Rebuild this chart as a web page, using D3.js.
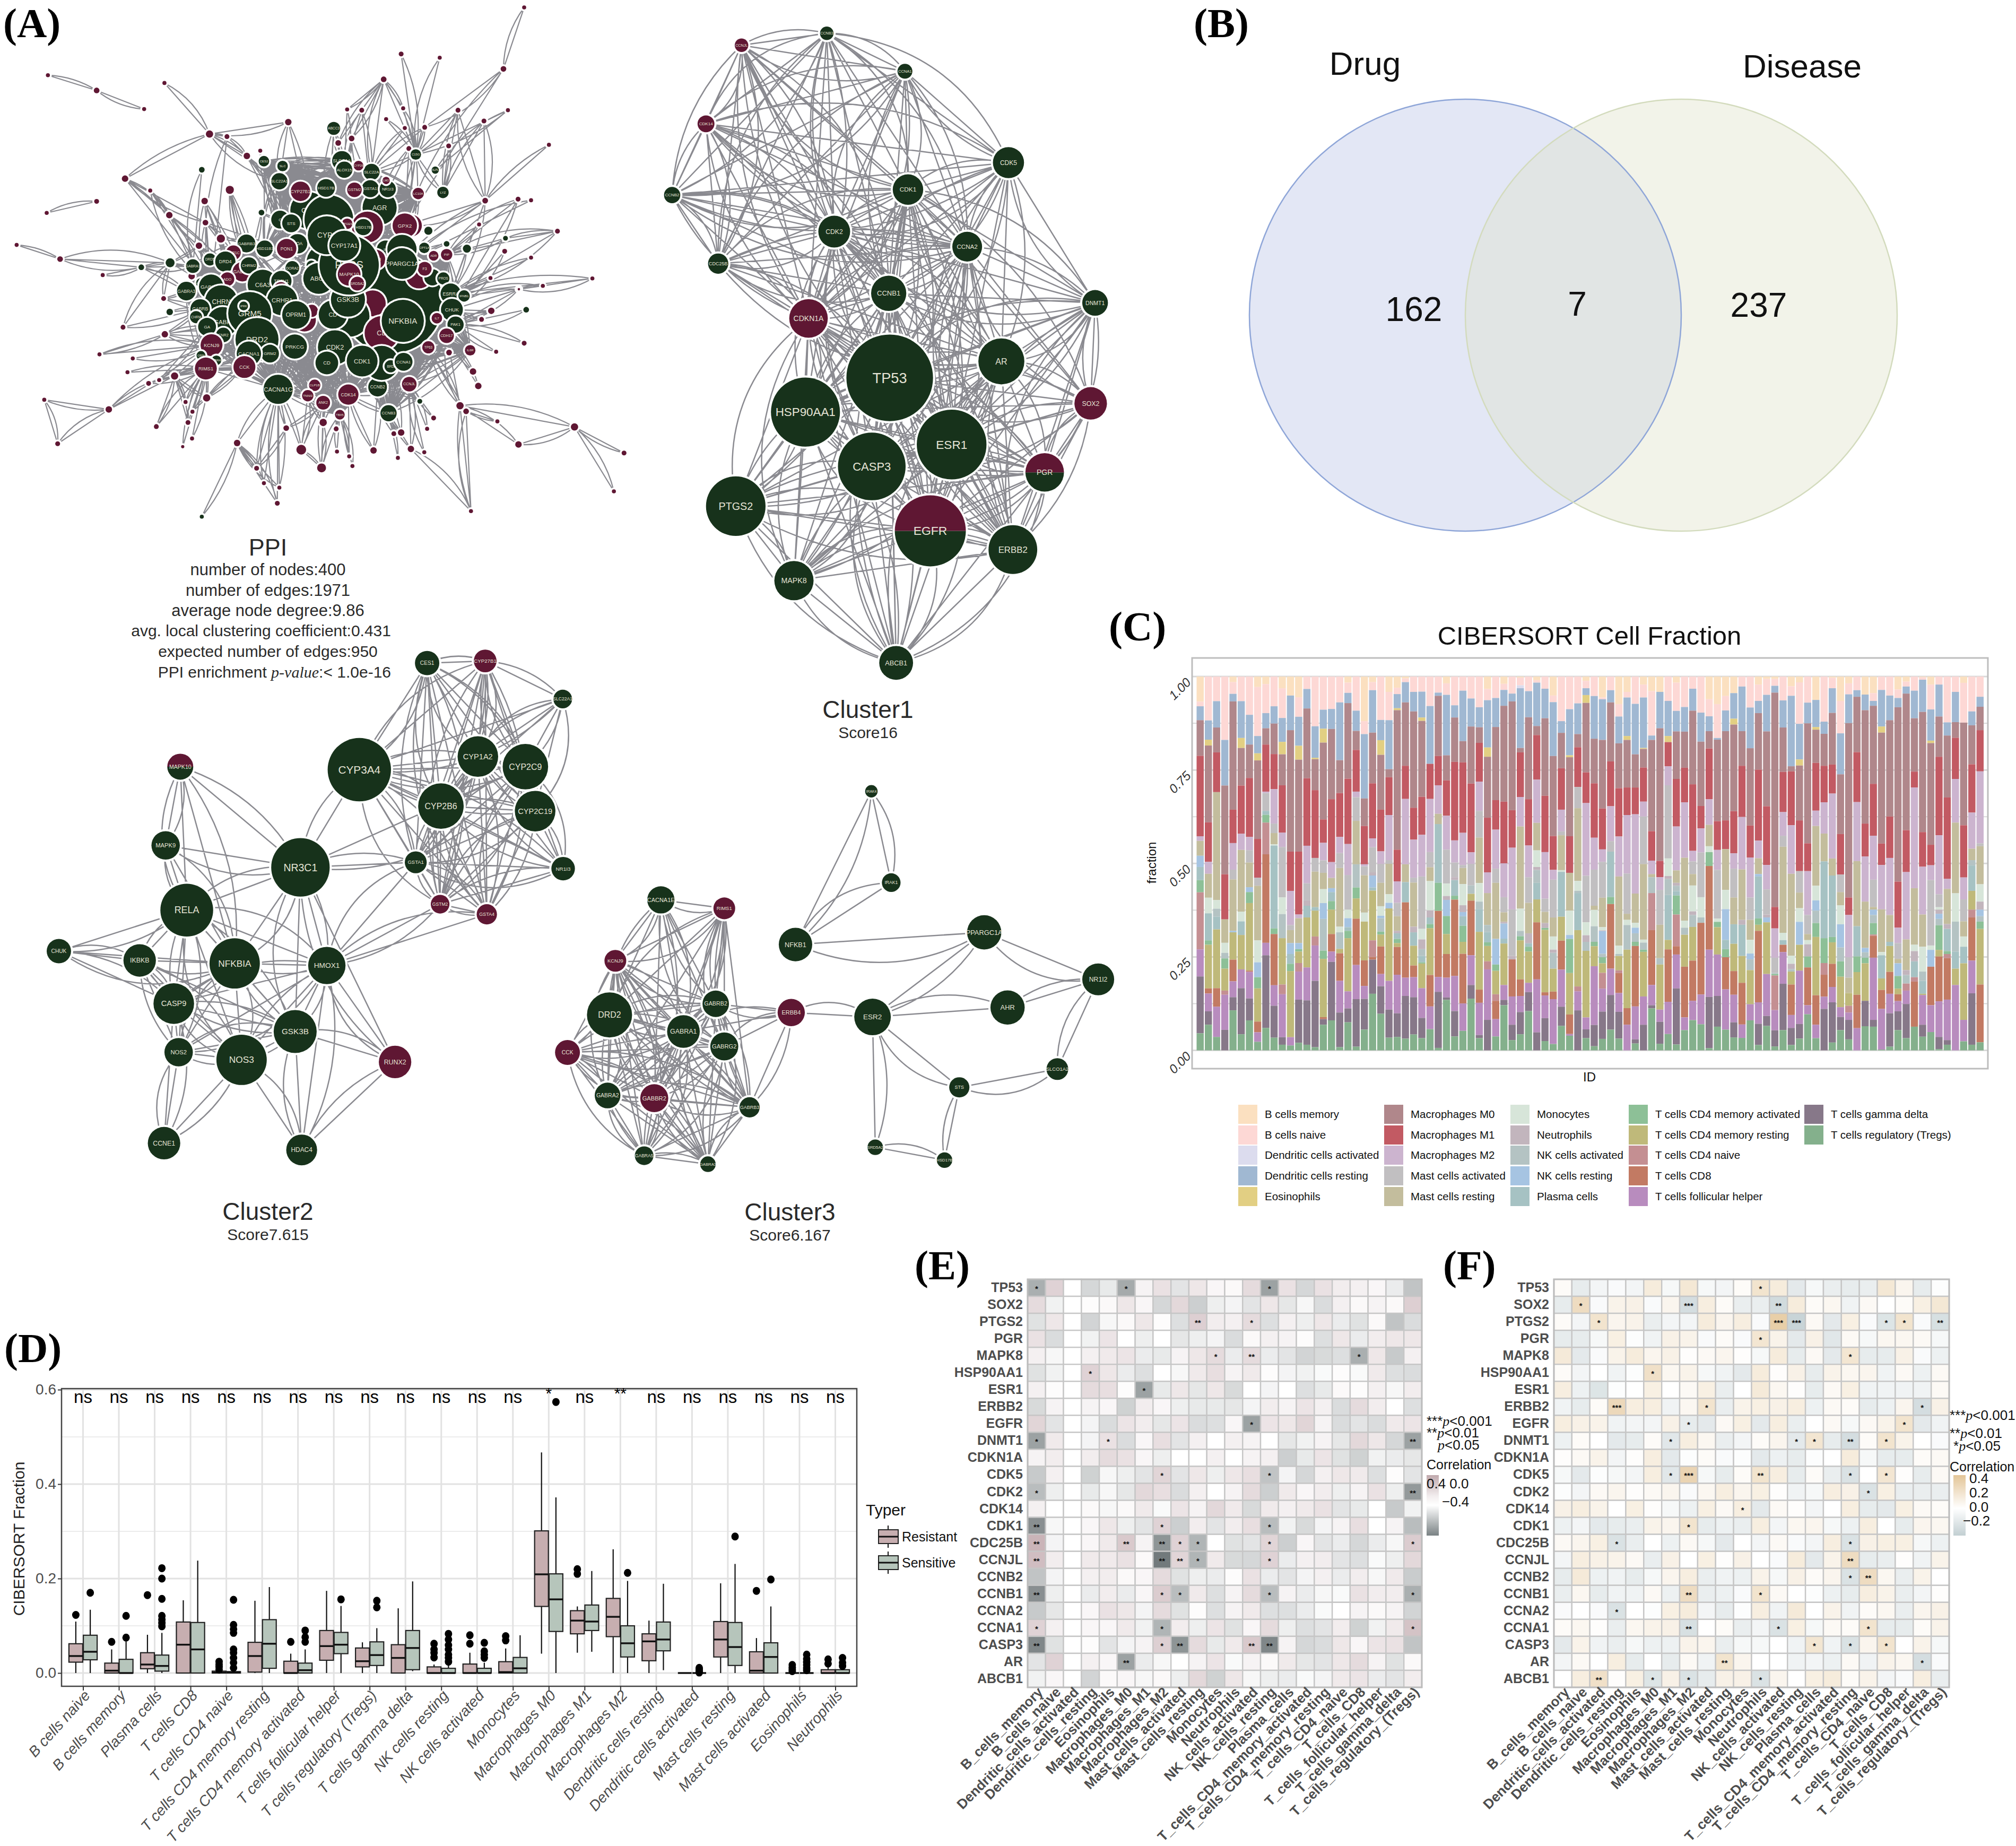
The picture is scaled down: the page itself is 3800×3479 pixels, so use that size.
<!DOCTYPE html>
<html><head><meta charset="utf-8">
<script src="https://cdn.jsdelivr.net/npm/d3@7"></script>
<style>
html,body{margin:0;padding:0;background:#fff}
text{font-family:"Liberation Sans",Arial,sans-serif}
.panel{font-family:"Liberation Serif",serif;font-weight:bold;font-size:78px;fill:#000}
</style></head><body>
<svg id="fig" width="3800" height="3479" xmlns="http://www.w3.org/2000/svg"></svg>
<script>
/* ---------- A: clusters (layout units) ---------- */
const cluster1Nodes=[["CCNJL",310,99,20,"m"],["CCNB3",562,73,20,"g"],["CCNA1",793,156,22,"g"],["CDK14",205,271,25,"m"],["CCNB2",105,427,24,"g"],["CDK5",1099,356,46,"g"],["CDK1",802,415,45,"g"],["CDK2",584,507,47,"g"],["CCNA2",977,540,44,"g"],["CDC25B",241,577,30,"g"],["CCNB1",745,642,52,"g"],["DNMT1",1355,663,38,"g"],["CDKN1A",508,697,57,"m"],["AR",1078,791,68,"g"],["TP53",748,827,128,"g"],["SOX2",1342,883,48,"m"],["HSP90AA1",499,902,102,"g"],["ESR1",931,973,103,"g"],["CASP3",695,1021,100,"g"],["PGR",1206,1034,57,"h"],["PTGS2",293,1108,88,"g"],["EGFR",868,1162,105,"h"],["ERBB2",1112,1203,72,"g"],["MAPK8",465,1271,58,"g"],["ABCB1",767,1451,50,"g"]];
/* "a b c" = every pair, ">a b c" = a linked to each of the others */
const cluster1Groups=["CCNJL CCNB3 CCNA1 CDK14 CCNB2 CDC25B CDK1 CDK2 CCNA2 CCNB1 CDKN1A",">CDK5 CDK1 CDK2 CCNA2 CCNB1 CCNB3 CCNA1 CDK14 CCNB2 CDKN1A TP53 ESR1 AR DNMT1","TP53 HSP90AA1 ESR1 CASP3 PTGS2 EGFR ERBB2 MAPK8 AR PGR ABCB1 CDKN1A CCNB1",">DNMT1 CDK1 CDK2 CCNA2 CCNB1 CDK5 TP53 ESR1 EGFR AR SOX2 PGR ERBB2 CASP3 HSP90AA1",">SOX2 TP53 ESR1 EGFR PGR ERBB2 AR CCNA2 CDK1 CASP3 HSP90AA1",">CDK1 TP53 ESR1 CASP3 AR EGFR ERBB2 HSP90AA1",">CDK2 TP53 ESR1 CASP3 AR EGFR ERBB2 HSP90AA1",">CCNA2 TP53 ESR1 CASP3 AR EGFR ERBB2 HSP90AA1",">CCNJL TP53",">CDC25B TP53 AR"];
const cluster2Nodes=[["CES1",1052,125,30,"g"],["CYP27B1",1195,120,28,"m"],["SLC22A1",1386,210,23,"g"],["CYP3A4",885,377,78,"g"],["CYP1A2",1177,346,50,"g"],["CYP2C9",1294,370,56,"g"],["CYP2B6",1086,463,56,"g"],["CYP2C19",1318,475,50,"g"],["GSTA1",1024,596,27,"g"],["NR1I3",1387,611,29,"g"],["GSTM2",1084,695,23,"m"],["GSTA4",1199,719,25,"m"],["MAPK10",444,370,32,"h"],["MAPK9",408,556,35,"g"],["NR3C1",740,608,72,"g"],["RELA",460,709,65,"g"],["CHUK",145,806,30,"g"],["IKBKB",344,828,40,"g"],["NFKBIA",578,835,62,"g"],["HMOX1",805,840,46,"g"],["CASP9",428,930,50,"g"],["GSK3B",727,996,53,"g"],["NOS2",440,1045,35,"g"],["NOS3",595,1063,62,"g"],["RUNX2",973,1068,40,"m"],["CCNE1",404,1260,40,"g"],["HDAC4",743,1276,38,"g"]];
const cluster2Groups=["CYP3A4 CYP1A2 CYP2C9 CYP2B6 CYP2C19 GSTA1 GSTM2 GSTA4",">CES1 CYP3A4 CYP1A2 CYP2C9 CYP2B6 CYP2C19 GSTA1 GSTM2 GSTA4 CYP27B1",">CYP27B1 CYP3A4 CYP1A2 CYP2C9 CYP2B6 CYP2C19 GSTA1 GSTM2 GSTA4",">SLC22A1 CYP27B1 CYP3A4 CYP1A2 CYP2C9 CYP2B6 CYP2C19",">NR1I3 CYP3A4 CYP1A2 CYP2C9 CYP2B6 CYP2C19 GSTA1 GSTM2",">NR3C1 CYP3A4 CYP2C9 GSTA1 RELA NFKBIA MAPK10 MAPK9 GSK3B HMOX1 RUNX2",">HMOX1 GSTA1 GSTM2 GSTA4 RELA NFKBIA CASP9 NOS2 NOS3 GSK3B RUNX2 HDAC4","RELA IKBKB NFKBIA CASP9 NOS2 NOS3 GSK3B",">MAPK10 MAPK9 RELA NFKBIA",">MAPK9 RELA NFKBIA",">CHUK RELA IKBKB NFKBIA CASP9",">CCNE1 CASP9 NOS2 NOS3",">HDAC4 GSK3B NOS3 RUNX2",">RUNX2 GSK3B"];
const cluster3Nodes=[["IRAK4",876,143,16,"g"],["IRAK1",927,413,24,"g"],["NFKB1",681,596,43,"g"],["PPARGC1A",1166,560,44,"g"],["NR1I2",1459,699,41,"g"],["AHR",1226,782,44,"g"],["ESR2",879,810,47,"g"],["ERBB4",670,797,35,"m"],["STS",1102,1018,26,"g"],["SLCO1A2",1354,964,28,"g"],["SRD5A2",886,1195,20,"g"],["HSD17B",1064,1233,20,"g"],["CACNA1E",335,464,35,"g"],["RIMS1",498,489,28,"m"],["KCNJ9",218,644,28,"m"],["DRD2",203,804,58,"g"],["GABRB2",476,771,34,"g"],["GABRA1",393,853,42,"g"],["GABRG2",498,897,36,"g"],["CCK",95,915,32,"m"],["GABRA2",198,1042,33,"g"],["GABBR2",318,1050,36,"m"],["GABRB3",563,1077,26,"g"],["GABRA5",292,1220,24,"g"],["GABRA3",456,1245,20,"g"]];
const cluster3Groups=["KCNJ9 DRD2 GABRB2 GABRA1 GABRG2 CCK GABRA2 GABBR2 GABRB3 GABRA5 GABRA3",">CACNA1E RIMS1 KCNJ9 GABRB2 GABRA1 GABRG2 GABBR2 DRD2",">RIMS1 KCNJ9 GABRB2 GABRA1 GABRG2 GABBR2 DRD2 GABRA2 GABRB3",">ERBB4 GABRB2 GABRG2 GABRB3 GABRA1 ESR2",">ESR2 PPARGC1A AHR STS SRD5A2",">NFKB1 PPARGC1A IRAK1 IRAK4",">IRAK4 IRAK1",">PPARGC1A NR1I2",">AHR NR1I2",">NR1I2 SLCO1A2",">SLCO1A2 STS",">STS HSD17B",">SRD5A2 HSD17B"];
/* PPI overview network */
const ppiNodes=[["hub1",965,812,125,"g"],["CYPa",760,565,45,"g"],["C",690,590,22,"g"],["STS",717,600,22,"g"],["CYPm",815,585,32,"m"],["CYPb",810,590,60,"g"],["AGR",935,558,42,"g"],["x1",905,610,38,"m"],["PTGES",855,601,13,"m"],["HSD17B",895,610,20,"g"],["CYP27B1",740,514,24,"m"],["HSD17Bb",803,505,22,"g"],["SLCO1A",842,432,24,"g"],["ALOX15",848,456,20,"g"],["SLC22A",915,462,20,"g"],["GSTA1",912,507,21,"g"],["NR1I3",955,508,20,"g"],["SLC22A1",688,487,20,"g"],["ABCC3",822,345,16,"g"],["CES2",650,433,13,"g"],["SLC",696,446,13,"g"],["GSTM2",873,510,18,"m"],["CYP26",883,445,12,"m"],["LMO",951,485,9,"m"],["LC10A",1030,520,14,"m"],["GPXb",1012,606,27,"m"],["GPX2",997,606,30,"m"],["GABRB3",607,654,22,"g"],["HSD11B1",652,668,20,"g"],["DOA",733,655,24,"g"],["PON1",706,668,24,"m"],["HTR1C",575,679,18,"m"],["GABRA1",475,715,17,"g"],["DRD5",517,697,15,"g"],["DRD4",555,703,25,"g"],["GABBR2",597,730,24,"m"],["CHRM2",613,713,20,"g"],["DORA2",720,720,17,"g"],["ADO",560,750,17,"m"],["C6A3",647,765,37,"g"],["TRPV1",693,755,25,"g"],["MGLL",692,776,17,"m"],["CACRA2",495,760,12,"g"],["GABRA2",520,770,30,"g"],["GABRA3",459,782,23,"g"],["CHRN",545,810,40,"g"],["GABRB",493,830,24,"g"],["CHRM",483,852,15,"g"],["CRHR1",695,807,37,"g"],["x2",750,860,28,"m"],["x3",768,835,15,"m"],["OPRM1",729,846,34,"g"],["GABR",548,865,37,"g"],["GA",510,878,22,"g"],["CNR2",550,900,18,"g"],["GRM5",615,842,53,"g"],["IPRK",600,822,11,"g"],["DRD2",633,912,53,"g"],["PRKCG",726,931,30,"g"],["GRM2",665,950,22,"g"],["CACNA1",613,950,30,"g"],["KCNJ9",521,927,27,"m"],["GRIN",495,955,11,"g"],["GABRA5",533,968,12,"g"],["CCK",602,986,27,"m"],["RIMS1",507,990,27,"m"],["CACNA1C",685,1046,36,"g"],["CLP1B",775,1035,14,"m"],["TNNI3",758,1063,14,"m"],["ANK2",796,1082,17,"m"],["TBX5",837,1114,12,"m"],["CDK14",858,1060,25,"m"],["CCNB2",930,1040,23,"g"],["CCNB3",957,1110,20,"g"],["CCNJL",1008,1032,18,"m"],["x4",800,705,45,"g"],["LIPE",767,713,12,"g"],["ABCB",785,748,38,"g"],["x5",918,815,32,"m"],["x6",860,850,50,"g"],["CD",820,845,35,"g"],["GSK3B",857,805,42,"g"],["CDm",940,895,42,"m"],["CDK2",825,933,42,"g"],["CDb",805,975,28,"g"],["x7",940,975,42,"g"],["CDK1",892,970,38,"g"],["BRD",962,984,15,"g"],["CCNA1",994,972,22,"g"],["IH",950,670,22,"g"],["x8",990,670,36,"g"],["x9",1032,740,32,"m"],["x10",1065,745,20,"g"],["PROS",1092,748,15,"g"],["F3",1046,722,17,"m"],["CISH",925,697,24,"m"],["PPARGC1A",990,708,38,"g"],["PTGS",860,712,73,"g"],["CYP2",805,632,47,"g"],["CYP17A1",848,660,37,"g"],["MAPK10",860,737,28,"m"],["SRD5A2",880,762,17,"m"],["NFKBIA",992,862,52,"g"],["ESRRA",1110,789,25,"g"],["IFNB1",1143,795,14,"g"],["CHUK",1113,832,27,"g"],["PAK1",1122,872,20,"g"],["IL7",1076,855,13,"m"],["CDH17",1100,902,18,"m"],["TP63",1055,933,15,"m"],["IL6R",1158,941,13,"m"],["PIP",1100,684,14,"m"],["ADR",1068,687,12,"m"],["CPT1A",1045,666,13,"g"],["LYZ",1091,517,14,"g"],["C15G",1024,415,13,"g"],["ALPL",1072,457,9,"g"]];
const ppiGroups=["GRM5 DRD2 CACNA1 CACNA1C KCNJ9 RIMS1 CCK GABRA2 GABRA1 GABRA3 GABRB GABR GA CHRN CHRM CNR2 GRM2 PRKCG OPRM1 CRHR1 C6A3 TRPV1 GABBR2 GABRB3 DRD4 DRD5 CHRM2 HTR1C ADO MGLL","CYP2 CYP17A1 PTGS CYPa CYPb CYP27B1 HSD17B HSD17Bb SLC22A1 SLCO1A ALOX15 SLC22A GSTA1 NR1I3 GSTM2 ABCB DOA STS C HSD11B1 PON1 CISH GPX2 AGR MAPK10 SRD5A2 CES2 SLC LC10A CYP26 x8 IH","NFKBIA hub1 GSK3B CDK1 CDK2 CD CCNA1 CCNB2 CCNB3 CCNJL CDK14 BRD x7 PPARGC1A F3 x9 ESRRA CHUK PAK1 CDH17 TP63 IL7 x5 x6 CDm IL6R PIP CPT1A","PTGS hub1 GSK3B CDK2 CDK1 CACNA1C GRM5 DRD2 CRHR1 OPRM1 C6A3 ABCB PPARGC1A CYP2 TNNI3 ANK2 CDK14 CLP1B PRKCG TBX5 DORA2 x3",">CYP2 GRM5 C6A3 GABBR2 HSD11B1 PON1 GABRB3 DRD4 DOA TRPV1",">ABCC3 SLCO1A ALOX15 CYPb CYP2",">C15G GPX2 SLC22A LYZ PPARGC1A"];
const ppiOuter=[["o1",1291,20,5,"m","o2"],["o2",1240,185,7,"m","o10 GPX2"],["o3",988,145,6,"m","C15G"],["o4",1083,155,5,"m","C15G"],["o5",118,202,5,"m","o6"],["o6",238,243,7,"m","o7"],["o7",355,293,5,"m",""],["o8",405,223,5,"m","o24"],["o9",945,213,7,"m","o27 o28 SLC22A C15G"],["o10",1046,342,6,"m","SLC22A C15G"],["o11",855,294,5,"m","o9 ALOX15"],["o12",891,296,6,"m","ALOX15 GSTA1"],["o13",993,291,5,"m","o9 C15G"],["o14",1128,296,6,"m","LYZ C15G o36"],["o15",1251,296,5,"m","C15G ALPL"],["o16",1192,325,6,"m","o36 LYZ"],["o17",710,328,8,"m","o24 SLC22A1 CYPa"],["o18",997,344,5,"m","SLC22A"],["o19",951,320,5,"m","C15G"],["o24",516,360,9,"m","o30 o26 SLC22A1 o33"],["o26",559,367,6,"m","GABRA2 o33"],["o27",833,384,7,"m","SLCO1A"],["o28",866,372,7,"m","ALOX15 AGR"],["o29",1007,399,6,"m","GPX2 AGR"],["o31",1105,392,6,"m","LYZ"],["o32",1352,389,5,"m","o36"],["o33",608,419,8,"m","C SLC22A1 x4"],["o34",641,405,5,"m","C"],["o30",308,480,8,"m","o38 o39 GABRA2"],["o35",370,512,5,"m","GABRA2 o38"],["o37",566,510,10,"m","CHRM2 GRM5 C6A3"],["o40",504,540,8,"m","DRD4 GABRA2 GRM5"],["o41",238,541,6,"m","o42"],["o42",115,572,5,"m",""],["o38",417,578,8,"m","GABRA1 DRD4 GRM5"],["o39",506,598,7,"m","GABRA2 GABBR2 x4"],["o36",1195,539,7,"m","GPX2 PPARGC1A ESRRA"],["o43",1276,535,6,"m","PIP CHUK"],["o44",1308,538,5,"m","PPARGC1A"],["o45",1180,603,5,"m","PIP"],["o46",1373,621,6,"m","o47 ESRRA PIP"],["o48",41,658,5,"m","o49"],["o49",148,696,7,"m","o50 o51"],["o52",544,641,10,"m","GRM5 GABRB3 DRD2"],["o53",490,660,8,"m","CHRN DRD4"],["o54",1243,675,6,"m","CHUK"],["o55",1308,692,5,"m","ESRRA"],["o56",1208,747,5,"m","ESRRA"],["o57",1278,777,6,"m","CHUK o58"],["o58",1337,768,5,"m","IFNB1"],["o59",1459,748,5,"m","o60 ESRRA"],["o60",1278,777,3,"m","PAK1"],["o61",253,739,5,"m","o50"],["o62",472,742,8,"m","GABRA2"],["o63",403,802,6,"m","GABRA3 o51 GRM5"],["o64",1210,835,8,"m","CHUK PAK1"],["o65",1186,858,6,"m","CHUK"],["o66",303,879,6,"m","GABRB o51"],["o67",406,898,8,"m","GABRB GA KCNJ9 DRD2"],["o68",1291,922,6,"m","PAK1"],["o69",1222,945,5,"m","PAK1"],["o70",245,952,5,"m","o67 KCNJ9"],["o71",327,963,5,"m","KCNJ9"],["o72",314,1000,5,"m","RIMS1"],["o73",366,1030,6,"m","RIMS1"],["o74",392,1021,5,"m","RIMS1 GA"],["o75",430,1010,9,"m","RIMS1 KCNJ9 CCK o78"],["o76",109,1074,5,"m","o77 o78b"],["o78b",268,1100,8,"m","o75 o77 KCNJ9"],["o77",142,1192,6,"m",""],["o79",385,1146,6,"m","o75 RIMS1"],["o80",463,1135,6,"m","o75 RIMS1"],["o81",457,1080,5,"m","o75 RIMS1"],["o82",474,1106,5,"m","RIMS1 o78"],["o78",509,1069,9,"m","RIMS1 CCK CACNA1"],["o83",450,1200,4,"m","RIMS1"],["o84",473,1178,5,"m","RIMS1"],["o85",584,1190,8,"m","CACNA1C o86 o88 o89"],["o86",632,1258,6,"m","CACNA1C o91"],["o88",650,1298,5,"m","CACNA1C"],["o89",688,1310,5,"m","CACNA1C"],["o90",683,1352,6,"m","CACNA1C o85"],["o91",705,1150,7,"m","CACNA1C ANK2"],["o92",742,1208,12,"m","ANK2 CACNA1C o93 TNNI3"],["o93",792,1257,11,"m","ANK2 o92 o94 TBX5"],["o94",796,1135,9,"m","ANK2 TNNI3 CDK2"],["o95",828,1152,6,"m","TBX5 CDK2"],["o96",830,1213,5,"m","TBX5"],["o97",860,1226,5,"m","TBX5 CDK14"],["o98",868,1252,5,"m","TBX5"],["o99",920,1210,8,"m","CDK14 CCNB2"],["o100",970,1165,6,"m","CCNB2 CCNB3"],["o101",988,1162,8,"m","CCNB3 x7"],["o102",1012,1206,8,"m","CCNB3 CCNJL o110"],["o103",980,1230,5,"m","CCNB3"],["o104",1045,1215,5,"m","CCNJL"],["o105",1052,1152,5,"m","CCNJL"],["o106",1068,1123,6,"m","CCNJL"],["o107",1133,1090,9,"m","TP63 CDH17 o110"],["o108",1148,1105,7,"m","TP63 o110"],["o109",1225,1132,5,"m","o108"],["o110",1160,1373,5,"m","o107"],["o111",1415,1147,9,"m","o107 o112 o113 o114"],["o112",1277,1194,8,"m","o107 o111"],["o113",1537,1217,6,"m",""],["o114",1512,1320,5,"m",""],["o115",1165,998,8,"m","CDH17"],["o116",1178,1037,8,"m","CDH17"],["o117",1106,947,7,"m","PAK1"],["o118",497,1388,5,"g","o85"],["o50",348,718,7,"g","GABRA3 GABRA1 o51"],["o51",419,706,11,"g","GABRA1 GABRA2 o53"],["o47",1245,640,6,"g","PIP"],["o119",1150,668,10,"g","PIP ESRRA"],["o120",1100,655,7,"g","PPARGC1A"],["o121",1296,832,7,"g","PAK1"],["o122",1034,1078,6,"g","CCNB2"],["o123",418,838,8,"g","GABRB"],["o124",497,456,7,"g","GABRA1"],["o125",644,571,7,"g","CHRM2 C"],["o126",1055,620,10,"g","GPX2"]];
/* ---------- B ---------- */
const vennSets=["Drug","Disease"];
const vennCounts=[162,7,237];
/* ---------- C ---------- */
const cellTypes=["B cells memory","B cells naive","Dendritic cells activated","Dendritic cells resting","Eosinophils","Macrophages M0","Macrophages M1","Macrophages M2","Mast cells activated","Mast cells resting","Monocytes","Neutrophils","NK cells activated","NK cells resting","Plasma cells","T cells CD4 memory activated","T cells CD4 memory resting","T cells CD4 naive","T cells CD8","T cells follicular helper","T cells gamma delta","T cells regulatory (Tregs)"];
const cellColors=["#fbe0c0","#fdd8d5","#dcdcee","#a0b8d2","#e2cf83","#b0878b","#c25a63","#ccb4cf","#c1bfc1","#c3bd9d","#d7e5d9","#c2b5bd","#b4c3c3","#a6c4e2","#a6c2c3","#8dc097","#bfb97a","#c48f92","#c27a63","#b88cbe","#877889","#84b08c"];
const cellKeys="abcdefghijklmnopqrstuv";
/* each entry: letter of the cell type + depth of its lower edge on a 12..1545 reading grid (12 = fraction 1, 1545 = fraction 0) */
const sampleStacks=["a115 b134 d191 f337 g667 h686 j747 n793 o847 p897 r1131 t1242 u1475 v","b192 d271 e295 f610 g772 h821 j919 k983 o1094 p1112 q1291 s1312 t1385 u1440 v","b113 d221 f323 g486 j929 k964 m997 o1049 q1290 s1366 t1490 v","b272 d459 f823 g1008 j1104 k1145 m1168 p1210 q1300 r1317 t1461 u1545","a35 b83 d114 f558 g695 h804 i844 j1055 n1061 q1173 s1262 t1327 u1381 v","b113 d264 e305 f459 g657 h723 j976 k1016 o1072 q1213 t1290 u1479 v","b169 d291 f428 g670 h724 i775 j876 n896 p941 q1218 s1223 t1332 u1422 v","a55 b256 d327 e356 f678 g837 i870 j1094 k1184 n1245 p1291 q1427 s1471 t1510 v","a43 b162 d224 f291 g484 h490 i563 o579 p611 r741 s1104 t1155 u1453 v","b134 d205 f330 g474 h615 i654 j700 k705 o1045 p1068 s1278 t1362 u1493 v","a60 b182 d280 e331 f458 g652 h711 i918 k986 m1085 q1275 r1315 t1491 u1522 v","a90 d232 f730 g891 h1031 i1052 j1105 n1150 o1190 p1220 q1491 t1525 v","a97 b177 d296 e353 f730 g988 h1003 j1105 n1130 p1140 q1187 r1222 t1337 u1514 v","b63 d143 f429 g706 h860 i930 l952 o1000 q1205 t1340 u1522 v","b216 d345 e351 f478 g756 i812 j958 o972 q1078 r1115 t1260 u1532 v","b148 d226 e283 f598 g694 h766 i817 j884 k941 n1006 m1136 p1170 q1409 s1417 u1440 v","b145 d227 f515 g773 h838 j880 n896 o933 p968 q1068 s1140 t1182 u1422 v","b118 d355 f490 g670 h736 i797 j1038 k1061 m1129 q1147 s1260 t1390 u1532 v","a37 b79 d121 f431 g699 h826 i968 k1003 n1040 o1055 p1085 q1303 t1373 u1430 v","b152 d235 f313 g484 h507 i604 j782 m877 p922 q1005 s1195 t1335 u1530 v","a195 b248 d512 f625 g782 h790 i827 j980 k1017 q1176 s1281 t1334 u1460 v","a35 b68 d242 f450 g676 h712 i815 l828 n877 o890 q1094 r1162 s1173 u1313 v","b190 d273 e333 f558 g729 h780 i858 j954 k993 n1003 m1058 p1070 q1119 s1232 t1282 u1395 v","a75 b191 d392 f425 g580 h765 i780 j905 k940 n963 q1260 t1378 u1493 v","a58 b84 d142 e150 f722 g852 h940 i995 j1055 l1065 o1088 p1105 q1121 s1235 t1393 u1490 v","a20 b35 d118 f378 g514 h782 j855 o938 s1247 t1322 u1497 v","b75 d155 f550 g681 h837 i857 j1038 l1061 o1116 q1197 s1245 t1327 u1480 v","b74 d180 e194 f505 g661 h832 i1047 k1090 l1130 m1158 o1184 p1189 q1290 t1412 u1495 v","b133 d370 g514 h732 i794 j851 k971 l1000 o1027 p1044 q1236 s1365 t1458 v","b78 d91 f338 g458 h575 j617 o858 p973 s1244 t1305 u1535 v","a40 b87 d335 f438 g583 h722 i861 k912 l928 n994 p1068 q1150 s1247 t1328 u1338 v","b130 d180 f362 g684 h775 i835 l847 o911 p927 s1240 t1384 u1488 v","b70 d277 f364 g653 h785 i797 j863 k950 l978 n995 o1034 p1100 q1149 s1353 t1465 v","b102 d217 f451 g733 h780 i868 m903 q931 s1155 t1277 u1333 v","b138 d220 f284 g443 h563 i672 j859 k935 m967 o1059 q1296 s1350 t1482 u1495 v","a63 b109 d303 e341 f591 g815 h900 j1031 m1060 o1102 p1117 q1180 r1213 t1420 u1545","b100 d219 f519 g640 h800 i858 j1088 n1193 p1219 q1315 r1342 s1417 t1488 v","a42 b67 d132 f525 g778 h917 i979 j1018 l1025 n1087 o1107 q1277 t1338 u1360 v","b82 d114 f560 g714 h967 i1158 l1172 s1324 t1440 u1503 v","a16 b48 c60 d305 f323 g506 h627 j964 k1055 m1077 p1094 q1254 s1322 t1388 u1479 v","b72 d179 f515 g705 h835 i940 j1065 l1106 o1120 p1140 q1268 t1306 u1384 v","a27 b37 d215 f252 g435 h612 j725 k793 l805 m858 o926 q1020 s1254 t1471 u1545","b62 d183 f501 g732 h923 i977 j1023 l1043 p1051 q1307 s1320 t1413 u1507 v","a90 b117 d338 f666 g805 h845 i1000 j1078 k1132 l1145 m1210 q1304 s1335 t1519 v","b195 d243 f388 g558 h647 i663 j806 k813 o997 q1095 s1214 t1366 u1445 v","b146 d335 e343 f667 g817 j972 k1072 n1088 p1228 q1398 s1478 t1485 v","b122 d248 f302 g465 i552 j850 k891 m900 o1052 q1283 r1303 t1381 u1545","a30 b60 d88 e120 f405 g531 h829 i1020 k1073 l1100 m1137 q1410 t1459 u1495 v","b92 d267 f450 g673 h804 i952 j969 k1036 m1100 p1118 q1200 t1441 u1528 v","a98 b105 d272 f553 g721 h772 i919 j1040 k1053 l1056 n1149 m1163 p1188 q1227 r1292 t1386 u1498 v","b68 d118 f360 g544 h687 i730 o916 p945 s1210 t1318 u1460 v","a125 b176 d286 f470 g668 h832 j1116 k1150 m1158 q1217 r1228 s1310 t1387 u1497 v","a75 b98 d256 e272 f467 g580 h820 i985 j1010 k1031 m1132 q1372 s1440 t1545","b124 d331 f467 g577 h902 j1022 k1042 n1065 m1100 p1117 s1365 t1500 u1517 v","a45 b98 d305 e309 f385 g525 h586 i781 j1091 k1103 m1132 p1141 q1324 t1440 u1545","a72 b254 d272 f646 g767 h822 j835 m900 r1052 s1277 t1360 u1373 v","a75 d224 f768 g835 h887 i1030 j1167 m1193 q1378 t1428 u1518 v","b112 d256 e281 g380 h458 i758 k830 l842 m908 o1092 q1131 s1346 t1478 v","a37 b153 d237 f432 g627 h807 j858 l870 m892 o910 p988 r1118 s1152 t1291 u1521 v","b137 d238 f386 g528 h755 j1013 k1042 m1071 q1202 s1410 t1462 v","b62 d152 f454 g727 h770 i822 j869 k975 l990 m1039 q1177 s1342 t1421 v","b160 d279 f543 g635 h733 i917 k1000 m1022 s1316 t1438 v","a105 b175 d236 f307 g515 h620 j708 k732 p789 s1132 t1326 u1536 v","a125 b264 d271 f605 g723 h805 i1005 k1018 p1040 q1152 t1322 u1448 v","a92 b151 d236 f602 g720 j887 k966 n1092 o1130 p1163 s1295 t1460 v","a80 d185 e209 f564 g737 h800 i918 j1028 o1108 q1220 s1317 t1430 u1492 v","b53 d236 f378 g588 h803 j1010 l1030 o1158 q1268 s1439 t1494 v","b139 d306 f623 g754 h918 i1010 j1092 k1148 n1172 m1216 q1356 t1422 v","a45 b112 d162 f394 g685 h757 j822 n832 o1004 p1030 q1055 s1348 t1436 u1523 v","a22 b87 d237 f544 g785 h885 i988 l1000 n1020 q1232 t1404 u1445 v","a22 b50 d78 f957 g1045 h1165 i1227 m1232 p1238 r1380 t1463 u1529 v","b110 d221 f403 g568 h665 i710 j1063 k1093 o1112 s1142 t1272 u1462 v","a52 b91 d380 f401 g622 h821 j1157 k1190 l1212 m1222 q1275 s1400 t1453 u1523 v","a36 b206 d352 e377 f602 g810 i898 j962 k1018 n1112 q1218 t1437 u1497 v","b119 d204 f696 g810 h990 i1068 j1093 k1110 l1160 p1205 s1360 t1397 v","a108 d219 e230 f366 g562 h625 j870 k930 n972 m1023 p1080 q1319 s1440 t1495 v","b197 d247 f378 g528 h656 j770 o1085 p1187 r1235 s1325 t1375 u1545","a17 b60 d161 f373 g492 h758 j828 o1080 p1102 q1190 s1285 t1348 u1513 v","a112 b245 d413 f658 g824 i896 j950 k1028 n1123 m1180 p1243 q1368 t1408 u1462 v","a40 b85 d203 f918 g990 h1163 i1247 j1310 q1362 r1390 t1420 u1500 v","b68 d95 f322 g527 h769 j1036 o1160 p1224 q1317 s1454 t1545","a86 d150 f615 g750 h935 j1125 n1143 m1165 p1188 q1342 u1446 v","a80 b112 d132 f452 g665 h845 i957 j968 n990 m1023 p1070 r1075 s1165 t1420 u1448 v","b67 d217 e242 f697 g785 h967 j1142 k1155 o1250 q1297 s1375 t1542 v","b90 d191 f586 g756 h990 j1100 o1117 q1223 s1313 t1393 u1530 v","a65 b100 d138 f853 g1042 h1105 i1170 j1188 n1240 p1292 q1315 s1343 t1385 u1462 v","a33 b53 d82 f642 g814 h1090 j1216 l1236 m1271 r1300 t1355 u1495 v","b70 d183 f402 g467 h880 j1112 k1138 l1180 o1245 r1263 s1448 v","a15 b25 d157 f650 g792 h988 j1120 k1222 m1260 o1313 q1318 t1440 u1489 v","a45 b147 d275 e285 f702 g786 h847 i1115 k1133 n1202 s1360 t1470 v","b45 d176 f341 g663 h905 i958 k968 l985 n1006 m1032 p1133 q1160 s1344 t1490 u1540 v","b200 d254 f508 g842 h883 j1027 l1047 o1138 p1150 r1167 s1337 t1503 u1522 v","b75 d199 f263 g432 h611 j901 k1017 m1140 o1210 q1277 t1545","a38 b201 f622 g836 h926 i1016 j1078 k1120 o1188 q1420 t1508 v","b155 d212 f372 g570 h718 j765 m787 o891 q968 r1000 s1177 t1311 u1522 v","b95 d136 f232 g401 h696 i708 j864 k935 l968 n995 m1017 p1047 q1275 s1512 v"];
/* ---------- D ---------- */
const boxCategories=["B cells naive","B cells memory","Plasma cells","T cells CD8","T cells CD4 naive","T cells CD4 memory resting","T cells CD4 memory activated","T cells follicular helper","T cells regulatory (Tregs)","T cells gamma delta","NK cells resting","NK cells activated","Monocytes","Macrophages M0","Macrophages M1","Macrophages M2","Dendritic cells resting","Dendritic cells activated","Mast cells resting","Mast cells activated","Eosinophils","Neutrophils"];
const boxSignif=["ns","ns","ns","ns","ns","ns","ns","ns","ns","ns","ns","ns","ns","*","ns","**","ns","ns","ns","ns","ns","ns"];
/* low whisker, q1, median, q3, high whisker, outliers */
const resistantBoxes=[[0,.023,.036,.062,.109,[.123]],[0,0,.005,.021,.05,[.066]],[0,.009,.018,.043,.081,[.165]],[0,0,.06,.108,.154,[]],[0,0,.001,.004,.005,[.007,.013,.018,.024]],[0,.002,.036,.065,.153,[]],[0,0,0,.025,.041,[.066]],[0,.027,.057,.09,.174,[]],[0,.013,.025,.053,.065,[]],[0,0,.032,.06,.137,[]],[0,0,0,.013,.018,[.033,.043,.05,.062]],[0,0,0,.019,.043,[.062,.08]],[0,0,.002,.024,.052,[.069,.078]],[.041,.141,.209,.301,.467,[]],[.043,.083,.111,.132,.141,[.21,.22]],[0,.077,.119,.158,.262,[]],[0,.026,.067,.083,.111,[]],[0,0,0,0,0,[]],[0,.034,.071,.109,.19,[]],[0,0,.005,.045,.074,[.174]],[0,0,0,0,0,[.004,.008,.012,.017]],[0,0,0,.007,.014,[.02,.029]]];
const sensitiveBoxes=[[0,.028,.045,.08,.134,[.17]],[0,0,0,.029,.067,[.075,.121]],[0,.004,.015,.038,.085,[.099,.106,.113,.121,.157,.2,.222]],[0,0,.05,.107,.238,[]],[0,0,.001,.003,.005,[.011,.022,.032,.043,.05,.085,.093,.102,.155]],[0,.01,.062,.113,.182,[]],[0,0,.006,.021,.05,[.066,.076,.09]],[0,.041,.06,.086,.142,[.156]],[0,.016,.038,.066,.095,[.139,.153]],[.004,.007,.053,.09,.194,[]],[0,0,0,.01,.02,[.024,.032,.039,.05,.059,.071,.083]],[0,0,0,.01,.022,[.032,.039,.046,.064]],[0,0,.01,.033,.08,[]],[0,.088,.156,.21,.372,[.574]],[.045,.09,.109,.144,.216,[]],[0,.034,.063,.1,.195,[.212]],[.006,.047,.071,.108,.189,[]],[0,0,0,0,0,[.001,.004,.008,.011]],[0,.016,.055,.107,.231,[.289]],[0,0,.034,.064,.141,[.198]],[0,0,0,0,0,[.006,.011,.017,.023,.03,.039]],[0,0,0,.007,.012,[.015,.022,.032]]];
/* ---------- E / F ---------- */
const genes=["TP53","SOX2","PTGS2","PGR","MAPK8","HSP90AA1","ESR1","ERBB2","EGFR","DNMT1","CDKN1A","CDK5","CDK2","CDK14","CDK1","CDC25B","CCNJL","CCNB2","CCNB1","CCNA2","CCNA1","CASP3","AR","ABCB1"];
const immuneCells=["B_cells_memory","B_cells_naive","Dendritic_cells_activated","Dendritic_cells_resting","Eosinophils","Macrophages_M0","Macrophages_M1","Macrophages_M2","Mast_cells_activated","Mast_cells_resting","Monocytes","Neutrophils","NK_cells_activated","NK_cells_resting","Plasma_cells","T_cells_CD4_memory_activated","T_cells_CD4_memory_resting","T_cells_CD4_naive","T_cells_CD8","T_cells_follicular_helper","T_cells_gamma_delta","T_cells_regulatory_(Tregs)"];
const corrE=[[-30,15,0,-15,-8,-32,4,10,-10,8,3,2,12,-35,10,-15,10,6,5,3,-7,-22],[12,-5,0,1,2,8,3,-15,13,-18,-6,-4,-10,8,-9,-3,-13,5,2,4,2,16],[-11,8,0,-16,-3,2,8,1,-12,16,6,5,12,-12,5,-6,8,-7,-11,2,-22,-13],[10,-13,0,-5,9,0,-6,0,-9,-6,-4,-13,2,5,4,1,-12,8,-7,6,8,8],[5,-3,0,5,7,9,-7,-8,4,8,12,-7,12,-7,-10,-16,-14,-12,-30,8,-20,5],[-11,-5,0,15,8,-7,-12,0,-3,7,11,4,7,1,-4,-5,-2,1,-2,7,-12,-13],[5,1,0,12,11,1,-35,-8,8,-9,8,-14,0,-4,0,-12,-8,2,1,5,-3,6],[-14,4,0,4,3,-17,6,3,-6,-8,-8,-9,-4,6,4,9,5,-13,12,6,0,-12],[14,-10,0,-4,-13,9,6,-9,9,-13,-12,3,-35,9,8,14,4,-13,-10,-13,7,9],[-35,7,0,-4,10,-13,3,11,-10,5,0,5,4,0,-9,-5,4,-9,13,8,-15,-35],[4,6,0,6,12,10,3,-6,0,0,5,0,4,5,-18,-8,9,-11,-17,-5,-7,-9],[-20,5,0,-17,-3,-6,-10,14,-10,8,-6,8,11,-22,-4,-15,5,8,7,-12,1,-10],[-25,-6,0,-8,-3,-9,13,11,-13,5,0,4,12,-18,7,3,6,-6,4,10,-6,-38],[5,0,0,2,-3,2,7,-2,9,4,13,7,-14,7,5,7,10,-10,-8,0,-20,-5],[-42,-3,0,3,8,-6,-10,15,-18,6,-10,6,11,-25,-5,-14,-4,4,11,0,4,-25],[25,-4,0,3,7,18,4,-40,15,-28,0,-11,-10,14,-18,3,-10,-7,-15,-7,-3,17],[22,6,0,7,7,10,2,-50,14,-28,7,-14,-15,15,-7,5,6,-10,-12,-2,-6,13],[-22,-4,0,5,6,2,3,12,-11,-6,-7,1,10,-7,-10,-4,5,-7,6,-3,7,-19],[-42,-6,0,-7,6,-7,3,17,-25,7,-12,4,12,-25,4,-7,-3,-2,10,6,6,-30],[-20,-9,0,3,10,8,-4,12,-11,1,-12,4,7,-12,-12,-7,-2,0,4,2,4,-16],[15,5,0,3,3,7,-5,-28,6,-6,9,-11,3,12,-6,-12,-10,6,-17,-5,7,20],[-45,-11,0,1,-10,-4,4,16,-40,12,-8,7,18,-45,4,-15,-13,8,3,9,10,-22],[-10,15,0,5,3,-35,-7,-3,0,4,9,-2,4,2,7,-9,-10,8,12,4,-11,2],[-5,3,0,-16,2,3,-3,2,-6,13,-17,8,-3,-6,-7,-2,-4,7,9,-7,-10,6]];
const corrF=[[2,-8,-4,-2,-4,10,-3,12,-3,-4,2,14,10,-9,-3,-7,-8,-7,12,5,-8,-1],[-8,18,-2,6,7,-2,5,-14,9,2,-7,-7,-15,10,2,4,-5,3,0,2,8,12],[2,-4,14,5,6,-7,-4,-4,10,5,9,-2,25,-18,3,-9,8,-2,-11,14,-2,-13],[-8,-8,-3,8,-1,-5,7,6,-2,2,-2,13,6,-9,7,-10,3,-3,4,4,3,-3],[11,-9,-2,6,10,5,7,1,3,5,1,-3,10,-8,3,-9,13,-8,-8,7,-2,-6],[2,-4,0,-5,-1,16,4,6,-3,-5,-9,10,1,7,-8,6,4,5,-5,3,-6,3],[9,-6,-11,-1,0,8,0,3,8,-7,0,11,4,1,-8,3,8,-5,-5,-5,-5,3],[-5,-8,2,20,9,9,-5,4,14,-7,6,8,7,9,-6,3,2,-8,-6,5,-14,7],[9,7,6,-5,-4,-4,7,-8,-9,3,8,-9,9,-7,0,3,-3,3,6,14,-9,-5],[-6,2,0,-9,-8,2,-10,9,4,-7,-4,2,5,-9,13,-8,-14,2,14,6,0,-2],[1,3,6,-4,1,9,-9,-1,2,-2,-1,-9,-6,-8,-1,0,10,-3,-8,-8,2,3],[-3,-9,-1,-3,-4,9,-10,22,-3,-8,2,14,9,-8,2,-7,-12,0,13,1,-8,3],[-1,-4,3,5,1,3,5,-2,4,9,5,8,1,-5,-3,9,7,-12,8,-7,-7,-7],[7,9,6,0,8,1,-3,-6,8,3,9,-9,3,1,-4,0,9,-8,-9,8,3,2],[-6,-4,-9,-8,-7,6,5,14,-8,-6,-7,9,-4,4,5,-3,-6,9,0,-8,5,4],[3,5,8,-12,-7,0,-6,3,-3,-9,0,-4,3,-2,-4,9,-12,7,8,8,-3,-6],[-4,9,7,6,3,-7,7,0,8,1,7,0,-2,10,-9,6,18,-8,-7,1,-5,6],[-8,11,-6,-5,-8,-3,5,9,-7,-5,-6,6,-3,7,2,5,-12,18,4,-7,6,0],[-7,4,-8,-5,-5,3,-6,18,-7,-6,-2,14,3,0,-1,-6,-8,9,6,-7,-4,1],[-2,0,-2,-12,0,-1,8,10,-4,-8,-1,9,-5,11,0,6,-5,2,4,-7,5,7],[2,4,1,-7,4,6,7,-13,0,2,-7,-4,-12,8,-3,3,2,14,-8,-8,2,6],[-9,6,-5,-7,-3,-6,-6,6,5,-7,-3,-3,0,-5,13,-5,-12,5,14,0,6,-3],[-4,3,0,9,-8,0,-8,3,-5,14,5,0,0,-5,-4,-6,3,-5,6,4,-14,-2],[0,9,16,1,8,-11,7,-12,-8,7,7,-12,5,0,8,10,2,6,-4,-2,9,-7]];
/* significant cells: [row gene, column index, stars] */
const starsE=[["TP53",0,"*"],["TP53",5,"*"],["TP53",13,"*"],["PTGS2",9,"**"],["PTGS2",12,"*"],["MAPK8",10,"*"],["MAPK8",12,"**"],["MAPK8",18,"*"],["HSP90AA1",3,"*"],["ESR1",6,"*"],["EGFR",12,"*"],["DNMT1",0,"*"],["DNMT1",4,"*"],["DNMT1",21,"**"],["CDK5",7,"*"],["CDK5",13,"*"],["CDK2",0,"*"],["CDK2",21,"**"],["CDK1",0,"**"],["CDK1",7,"*"],["CDK1",13,"*"],["CDC25B",0,"**"],["CDC25B",5,"**"],["CDC25B",7,"**"],["CDC25B",8,"*"],["CDC25B",9,"*"],["CDC25B",13,"*"],["CDC25B",21,"*"],["CCNJL",0,"**"],["CCNJL",7,"**"],["CCNJL",8,"**"],["CCNJL",9,"*"],["CCNJL",13,"*"],["CCNB1",0,"**"],["CCNB1",7,"*"],["CCNB1",8,"*"],["CCNB1",13,"*"],["CCNB1",21,"*"],["CCNA1",0,"*"],["CCNA1",7,"*"],["CCNA1",21,"*"],["CASP3",0,"**"],["CASP3",7,"*"],["CASP3",8,"**"],["CASP3",12,"**"],["CASP3",13,"**"],["AR",5,"**"]];
const starsF=[["TP53",11,"*"],["SOX2",1,"*"],["SOX2",7,"***"],["SOX2",12,"**"],["PTGS2",2,"*"],["PTGS2",12,"***"],["PTGS2",13,"***"],["PTGS2",18,"*"],["PTGS2",19,"*"],["PTGS2",21,"**"],["PGR",11,"*"],["MAPK8",16,"*"],["HSP90AA1",5,"*"],["ERBB2",3,"***"],["ERBB2",8,"*"],["ERBB2",20,"*"],["EGFR",7,"*"],["EGFR",19,"*"],["DNMT1",6,"*"],["DNMT1",13,"*"],["DNMT1",14,"*"],["DNMT1",16,"**"],["DNMT1",18,"*"],["CDK5",6,"*"],["CDK5",7,"***"],["CDK5",11,"**"],["CDK5",16,"*"],["CDK5",18,"*"],["CDK2",17,"*"],["CDK14",10,"*"],["CDK1",7,"*"],["CDC25B",3,"*"],["CDC25B",16,"*"],["CCNJL",16,"**"],["CCNB2",16,"*"],["CCNB2",17,"**"],["CCNB1",7,"**"],["CCNB1",11,"*"],["CCNA2",3,"*"],["CCNA1",7,"**"],["CCNA1",12,"*"],["CCNA1",17,"*"],["CASP3",14,"*"],["CASP3",16,"*"],["CASP3",18,"*"],["AR",9,"**"],["AR",20,"*"],["ABCB1",2,"**"],["ABCB1",5,"*"],["ABCB1",7,"*"],["ABCB1",11,"*"]];

/* ========== drawing ========== */
const svg=d3.select("#fig");
svg.append("rect").attr("width",3800).attr("height",3479).attr("fill","#fff");
const defs=svg.append("defs");
const GREEN="#17321b",MAROON="#5f1733",EDGE="#8a8a90";

[["(A)",6,70],["(B)",2250,70],["(C)",2090,1207],["(D)",8,2567],["(E)",1724,2411],["(F)",2720,2411]].forEach(([t,x,y])=>
  svg.append("text").attr("class","panel").attr("x",x).attr("y",y).text(t));

function network(nodes,groups,extra,xR,yR,dom,opts){
  const o=Object.assign({fa:3.5,fb:.29,sw:4,ew:2.5,bend:.2},opts||{});
  const g=svg.append("g");
  const sx=d3.scaleLinear().domain(dom[0]).range(xR),sy=d3.scaleLinear().domain(dom[1]).range(yR);
  const rs=d3.scaleLinear().domain([0,dom[0][1]-dom[0][0]]).range([0,xR[1]-xR[0]]);
  const byName=new Map(nodes.map(n=>[n[0],n]));
  const seen=new Set(),pairs=[];
  const add=(a,b)=>{if(a===b||!byName.has(a)||!byName.has(b))return;const k=a<b?a+"|"+b:b+"|"+a;if(!seen.has(k)){seen.add(k);pairs.push([a,b]);}};
  groups.forEach(s=>{
    if(s[0]===">"){const l=s.slice(1).split(" ");l.slice(1).forEach(b=>add(l[0],b));return;}
    const l=s.split(" ");l.forEach((a,i)=>l.slice(i+1).forEach(b=>add(a,b)));
  });
  (extra||[]).forEach(([a,b])=>add(a,b));
  const d=[];
  pairs.forEach(([a,b],i)=>{
    const A=byName.get(a),B=byName.get(b);
    const x1=sx(A[1]),y1=sy(A[2]),x2=sx(B[1]),y2=sy(B[2]);
    const dx=x2-x1,dy=y2-y1,s=(i%2?1:-1)*o.bend*(1+(i%3)*.25);
    d.push(`M${x1},${y1}L${x2},${y2}`);
    d.push(`M${x1},${y1}Q${(x1+x2)/2-dy*s},${(y1+y2)/2+dx*s} ${x2},${y2}`);
  });
  g.append("path").attr("d",d.join("")).attr("fill","none").attr("stroke",EDGE).attr("stroke-width",o.ew);
  const ng=g.selectAll("g.node").data(nodes).join("g").attr("class","node").attr("transform",n=>`translate(${sx(n[1])},${sy(n[2])})`);
  ng.append("circle").attr("r",n=>rs(n[3])+o.sw).attr("fill","#fff");
  ng.each(function(n){
    const e=d3.select(this),r=rs(n[3]);
    if(n[4]==="h"){
      const arc=d3.arc().innerRadius(0).outerRadius(r);
      e.append("path").attr("d",arc({startAngle:Math.PI/2,endAngle:Math.PI*1.5})).attr("fill",GREEN);
      e.append("path").attr("d",arc({startAngle:-Math.PI/2,endAngle:Math.PI/2})).attr("fill",MAROON);
    } else e.append("circle").attr("r",r).attr("fill",n[4]==="m"?MAROON:GREEN);
  });
  ng.filter(n=>/^[A-Z]/.test(n[0])).append("text").attr("text-anchor","middle").attr("dy",".35em")
    .attr("fill","#e6e4d6").attr("font-size",n=>o.fa+rs(n[3])*o.fb).text(n=>n[0].replace(/[a-z]$/,""));
}
network(cluster1Nodes,cluster1Groups,[],[1200,2200],[0,1350],[[0,1568],[0,1568]],{});
network(cluster2Nodes,cluster2Groups,[],[0,1200],[1150,2400],[[0,1568],[0,1568]],{});
network(cluster3Nodes,cluster3Groups,[],[1000,2150],[1400,2400],[[0,1568],[0,1568]],{});
const ppiExtra=[];
ppiOuter.forEach(n=>{(n[5]||"").split(" ").filter(Boolean).forEach(t=>ppiExtra.push([n[0],t]));});
network(ppiOuter.map(n=>[n[0],n[1],n[2],n[3],n[4]]).concat(ppiNodes),ppiGroups,ppiExtra,[0,1200],[0,1100],[[0,1568],[0,1568]],{fa:3,fb:.3,sw:3.5,ew:2.2,bend:.13});

/* captions */
function cap(t,x,y,fs,anchor){return svg.append("text").attr("x",x).attr("y",y).attr("dy",".36em").attr("text-anchor",anchor||"middle").attr("font-size",fs).attr("fill","#2a2a2a").text(t);}
cap("PPI",505,1031,45);
cap("number of nodes:400",505,1073,31);
cap("number of edges:1971",505,1112,31);
cap("average node degree:9.86",505,1150,31);
cap("avg. local clustering coefficient:0.431",737,1188,30,"end");
cap("expected number of edges:950",505,1227,30);
const pv=cap("PPI enrichment ",737,1266,30,"end");
pv.append("tspan").attr("font-family","Liberation Serif").attr("font-style","italic").text("p-value");
pv.append("tspan").text(":< 1.0e-16");
cap("Cluster1",1636,1336,46);cap("Score16",1636,1380,30);
cap("Cluster2",505,2282,46);cap("Score7.615",505,2326,30);
cap("Cluster3",1489,2283,46);cap("Score6.167",1489,2327,30);

/* ---------- B Venn ---------- */
(function(){
  const vx=d3.scaleLinear().domain([0,1]).range([2762,3169]);
  const cy=594,R=407;
  const centres=[0,1];
  defs.append("clipPath").attr("id","vclip").append("circle").attr("cx",vx(0)).attr("cy",cy).attr("r",R);
  const g=svg.append("g");
  g.selectAll("circle.f").data(centres).join("circle").attr("cx",d=>vx(d)).attr("cy",cy).attr("r",R).attr("fill",d=>d?"#f2f3e9":"#e3e7f5");
  g.append("circle").attr("cx",vx(1)).attr("cy",cy).attr("r",R).attr("fill","#e1e5e4").attr("clip-path","url(#vclip)");
  g.append("circle").attr("cx",vx(0)).attr("cy",cy).attr("r",R).attr("fill","none").attr("stroke","#8fa6d8").attr("stroke-width",2.5);
  g.append("circle").attr("cx",vx(1)).attr("cy",cy).attr("r",R).attr("fill","none").attr("stroke","#d3dbbd").attr("stroke-width",2.5);
  const t=(s,x,y,f)=>g.append("text").attr("x",x).attr("y",y).attr("dy",".36em").attr("text-anchor","middle").attr("font-size",f).attr("fill","#111").text(s);
  t(vennSets[0],2573,119,62);t(vennSets[1],3397,124,62);
  t(vennCounts[0],2665,582,64);t(vennCounts[1],2973,572,64);t(vennCounts[2],3315,574,64);
})();

/* ---------- C stacked bars ---------- */
(function(){
  const L=2247,R=3747,T=1240,B=2014;
  const g=svg.append("g");
  const ids=sampleStacks.map((_,i)=>i);
  const x=d3.scaleBand().domain(ids).range([2255.5,3739]).paddingInner(.13).paddingOuter(0);
  const y=d3.scaleLinear().domain([0,1]).range([1979.5,1275]);
  const read=d3.scaleLinear().domain([1545,12]).range([0,1]);
  g.selectAll("line.h").data(d3.range(0,1.001,.125)).join("line").attr("x1",L).attr("x2",R).attr("y1",d=>y(d)).attr("y2",d=>y(d)).attr("stroke","#d9d9d9").attr("stroke-width",(d,i)=>i%2?2:3);
  sampleStacks.forEach((s,i)=>{
    let prev=12;
    s.split(" ").forEach(tok=>{
      const k=cellKeys.indexOf(tok[0]);const d=tok.length>1?+tok.slice(1):1545;
      if(d>prev)g.append("rect").attr("x",x(i)).attr("width",x.bandwidth()).attr("y",y(read(prev))).attr("height",y(read(d))-y(read(prev))).attr("fill",cellColors[k]);
      prev=d;
    });
  });
  g.append("rect").attr("x",L).attr("y",T).attr("width",R-L).attr("height",B-T).attr("fill","none").attr("stroke","#bdbdbd").attr("stroke-width",3);
  const ax=g.append("g").attr("transform",`translate(${L},0)`).call(d3.axisLeft(y).tickValues([0,.25,.5,.75,1]).tickFormat(d3.format(".2f")).tickSize(0));
  ax.select(".domain").remove();
  ax.selectAll("text").attr("font-size",24).attr("fill","#333").attr("font-style","italic").attr("transform","rotate(-45)").attr("text-anchor","end").attr("dx","-6").attr("dy","8");
  g.append("text").attr("x",2996).attr("y",1215).attr("text-anchor","middle").attr("font-size",49).attr("fill","#111").text("CIBERSORT Cell Fraction");
  g.append("text").attr("x",2996).attr("y",2038).attr("text-anchor","middle").attr("font-size",24).attr("fill","#111").text("ID");
  g.append("text").attr("transform","translate(2179,1626) rotate(-90)").attr("text-anchor","middle").attr("font-size",24).attr("fill","#111").text("fraction");
  const colX=[2334,2609,2847,3070,3401],rowY=[2082,2121,2159,2198,2237];
  const perCol=[5,5,5,5,2];let idx=0;
  perCol.forEach((n,c)=>{for(let r=0;r<n;r++,idx++){
    g.append("rect").attr("x",colX[c]).attr("y",rowY[r]).attr("width",36).attr("height",36).attr("fill",cellColors[idx]);
    g.append("text").attr("x",colX[c]+50).attr("y",rowY[r]+18).attr("dy",".36em").attr("font-size",20.5).attr("fill","#111").text(cellTypes[idx]);
  }});
})();

/* ---------- D boxplot ---------- */
(function(){
  const L=116,R=1615,T=2617,B=3178;
  const g=svg.append("g");
  const x=d3.scalePoint().domain(boxCategories).range([L,R]).padding(.6);
  const y=d3.scaleLinear().domain([0,.6]).range([3153,2619]);
  const C=["#c7aeb0","#b6c5bb"];
  [.1,.3,.5].forEach(v=>g.append("line").attr("x1",L).attr("x2",R).attr("y1",y(v)).attr("y2",y(v)).attr("stroke","#ececec").attr("stroke-width",2));
  [0,.2,.4,.6].forEach(v=>g.append("line").attr("x1",L).attr("x2",R).attr("y1",y(v)).attr("y2",y(v)).attr("stroke","#e2e2e2").attr("stroke-width",3));
  boxCategories.forEach(c=>g.append("line").attr("x1",x(c)).attr("x2",x(c)).attr("y1",T).attr("y2",B).attr("stroke","#e2e2e2").attr("stroke-width",3));
  [resistantBoxes,sensitiveBoxes].forEach((set,j)=>{
    set.forEach((b,i)=>{
      const cx=x(boxCategories[i])+(j?13.6:-13.6),w=26;
      g.append("line").attr("x1",cx).attr("x2",cx).attr("y1",y(b[0])).attr("y2",y(b[4])).attr("stroke","#111").attr("stroke-width",2.2);
      g.append("rect").attr("x",cx-w/2).attr("width",w).attr("y",y(b[3])).attr("height",y(b[1])-y(b[3])).attr("fill",C[j]).attr("stroke","#222").attr("stroke-width",2.2);
      g.append("line").attr("x1",cx-w/2).attr("x2",cx+w/2).attr("y1",y(b[2])).attr("y2",y(b[2])).attr("stroke","#111").attr("stroke-width",3.4);
      b[5].forEach(v=>g.append("ellipse").attr("cx",cx).attr("cy",y(v)).attr("rx",7).attr("ry",7.5).attr("fill","#000"));
    });
  });
  g.append("rect").attr("x",L).attr("y",T).attr("width",R-L).attr("height",B-T).attr("fill","none").attr("stroke","#444").attr("stroke-width",2.5);
  const ay=g.append("g").attr("transform",`translate(${L},0)`).call(d3.axisLeft(y).tickValues([0,.2,.4,.6]).tickFormat(d3.format(".1f")).tickSize(7));
  ay.select(".domain").remove();
  ay.selectAll("text").attr("font-size",28).attr("fill","#4d4d4d");
  ay.selectAll("line").attr("stroke","#333").attr("stroke-width",2);
  const ax=g.append("g").attr("transform",`translate(0,${B})`).call(d3.axisBottom(x).tickSize(8));
  ax.select(".domain").remove();
  ax.selectAll("line").attr("stroke","#333").attr("stroke-width",2);
  ax.selectAll("text").attr("font-size",28).attr("font-style","italic").attr("fill","#4d4d4d").attr("text-anchor","end").attr("transform","rotate(-48)").attr("dx","-4").attr("dy","12");
  boxCategories.forEach((c,i)=>{
    const s=boxSignif[i];
    g.append("text").attr("x",x(c)).attr("y",s==="ns"?2644:2636).attr("text-anchor","middle").attr("font-size",s==="ns"?33:30).attr("fill","#000").text(s);
  });
  g.append("text").attr("transform","translate(46,2900) rotate(-90)").attr("text-anchor","middle").attr("font-size",30).attr("fill","#222").text("CIBERSORT Fraction");
  g.append("text").attr("x",1632).attr("y",2856).attr("font-size",30).attr("fill","#111").text("Typer");
  [["Resistant",2896,0],["Sensitive",2945,1]].forEach(([t,yy,j])=>{
    g.append("line").attr("x1",1674).attr("x2",1674).attr("y1",yy-21).attr("y2",yy+21).attr("stroke","#111").attr("stroke-width",2);
    g.append("rect").attr("x",1656).attr("y",yy-13).attr("width",37).attr("height",26).attr("fill",C[j]).attr("stroke","#222").attr("stroke-width",2);
    g.append("line").attr("x1",1656).attr("x2",1693).attr("y1",yy).attr("y2",yy).attr("stroke","#111").attr("stroke-width",3);
    g.append("text").attr("x",1700).attr("y",yy).attr("dy",".36em").attr("font-size",25).attr("fill","#111").text(t);
  });
})();

/* ---------- E / F heatmaps ---------- */
function heat(cfg){
  const g=svg.append("g");
  const x=d3.scaleBand().domain(immuneCells).range(cfg.xr);
  const y=d3.scaleBand().domain(genes).range([2411,3180]);
  const col=d3.scaleLinear().domain(cfg.dom).range(cfg.cols);
  cfg.data.forEach((row,i)=>row.forEach((v,j)=>{
    g.append("rect").attr("x",x(immuneCells[j])).attr("y",y(genes[i])).attr("width",x.bandwidth()).attr("height",y.bandwidth()).attr("fill",col(v/100)).attr("stroke","#c6c6c6").attr("stroke-width",2.4);
  }));
  cfg.stars.forEach(([r,c,s])=>g.append("text").attr("x",x(immuneCells[c])+x.bandwidth()/2).attr("y",y(r)+y.bandwidth()/2+7).attr("text-anchor","middle").attr("font-size",15).attr("font-weight","bold").attr("fill","#111").text(s));
  g.append("rect").attr("x",cfg.xr[0]).attr("y",2411).attr("width",cfg.xr[1]-cfg.xr[0]).attr("height",769).attr("fill","none").attr("stroke","#bcbcbc").attr("stroke-width",3);
  const ay=g.append("g").attr("transform",`translate(${cfg.xr[0]-6},0)`).call(d3.axisLeft(y).tickSize(0));
  ay.select(".domain").remove();
  ay.selectAll("text").attr("font-size",25).attr("font-weight","bold").attr("fill","#4d4d4d");
  const ax=g.append("g").attr("transform",`translate(0,3180)`).call(d3.axisBottom(x).tickSize(0));
  ax.select(".domain").remove();
  ax.selectAll("text").attr("font-size",26).attr("font-weight","bold").attr("fill","#4d4d4d").attr("text-anchor","end").attr("transform","rotate(-45)").attr("dx","2").attr("dy","14");
  const L=cfg.leg;
  L.p.forEach(([st,val,lx,ly])=>{
    const t=g.append("text").attr("x",lx).attr("y",ly).attr("dy",".36em").attr("font-size",26).attr("fill","#111").text(st);
    t.append("tspan").attr("font-family","Liberation Serif").attr("font-style","italic").text("p");
    t.append("tspan").text(val);
  });
  g.append("text").attr("x",L.x).attr("y",L.ty).attr("dy",".36em").attr("font-size",25).attr("fill","#111").text("Correlation");
  const id=cfg.id,gr=defs.append("linearGradient").attr("id",id).attr("x1",0).attr("x2",0).attr("y1",0).attr("y2",1);
  L.stops.forEach(([o,c])=>gr.append("stop").attr("offset",o).attr("stop-color",c));
  g.append("rect").attr("x",L.x+(L.barDx||0)).attr("y",2780).attr("width",23).attr("height",114).attr("fill",`url(#${id})`);
  L.ticks.forEach(([t,tx,ty])=>g.append("text").attr("x",tx).attr("y",ty).attr("dy",".36em").attr("font-size",26).attr("fill","#111").text(t));
}
heat({id:"gE",xr:[1937,2680],data:corrE,stars:starsE,dom:[-.5,0,.3],cols:["#727a7c","#ffffff","#bfa5aa"],
 leg:{x:2689,ty:2760,stops:[[0,"#c0a9ad"],[.35,"#f3eeef"],[.5,"#ffffff"],[1,"#7a8284"]],
  p:[["***","<0.001",2689,2678],["**","<0.01",2689,2700],["","<0.05",2710,2723]],
  ticks:[["0.4 0.0",2689,2796],["\u22120.4",2718,2830]]}});
heat({id:"gF",xr:[2929,3674],data:corrF,stars:starsF,dom:[-.2,0,.3],cols:["#c2cfd2","#ffffff","#e3c597"],
 leg:{x:3675,barDx:7,ty:2764,stops:[[0,"#e3c597"],[.55,"#ffffff"],[1,"#c2cfd2"]],
  p:[["***","<0.001",3675,2667],["**","<0.01",3675,2701],["*","<0.05",3682,2725]],
  ticks:[["0.4",3712,2786],["0.2",3712,2813],["0.0",3712,2840],["\u22120.2",3700,2866]]}});
</script>
</body></html>
